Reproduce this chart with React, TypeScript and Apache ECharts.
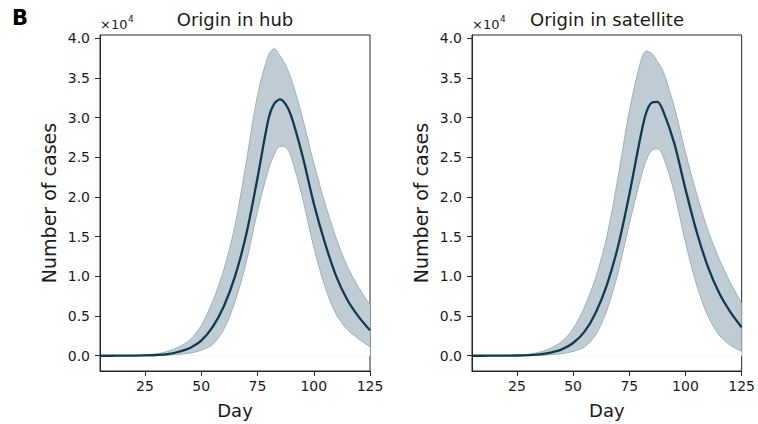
import React, { useEffect, useRef } from "react";
import * as echarts from "echarts";

// Day values (x)
const days = [5, 10, 15, 20, 25, 30, 35, 40, 45, 50, 55, 60, 65, 70, 75, 80, 82.5, 85, 87.5, 90, 95, 100, 105, 110, 115, 120, 125];

// Origin in hub (thousands of cases)
const hubMedian = [0, 0, 0.01, 0.02, 0.04, 0.09, 0.2, 0.5, 0.97, 1.9, 3.6, 6.2, 10.0, 15.3, 22.4, 30.0, 31.8, 32.3, 31.7, 30.2, 25.2, 19.2, 14.2, 10.0, 7.0, 4.9, 3.2];
const hubUpper = [0, 0, 0.02, 0.05, 0.1, 0.2, 0.55, 1.1, 2.0, 3.8, 6.8, 10.8, 16.4, 24.4, 32.8, 38.0, 38.7, 37.8, 36.6, 34.9, 30.0, 24.3, 19.2, 14.8, 11.2, 8.6, 6.4];
const hubLower = [0, 0, 0, 0.01, 0.02, 0.04, 0.08, 0.17, 0.33, 0.7, 1.4, 3.3, 6.8, 11.8, 18.2, 23.6, 25.4, 26.4, 26.3, 25.0, 19.9, 13.7, 8.7, 5.2, 3.3, 2.1, 1.1];

// Origin in satellite (thousands of cases)
const satMedian = [0, 0, 0.01, 0.02, 0.03, 0.07, 0.16, 0.4, 0.8, 1.6, 3.0, 5.4, 8.9, 13.8, 20.3, 27.6, 30.6, 31.9, 32.0, 30.9, 26.8, 21.0, 15.6, 11.2, 7.9, 5.5, 3.6];
const satUpper = [0, 0, 0.02, 0.04, 0.08, 0.17, 0.45, 0.95, 1.8, 3.4, 6.1, 9.8, 15.0, 22.5, 30.8, 37.0, 38.4, 38.1, 37.1, 35.9, 31.4, 25.6, 20.4, 15.8, 12.2, 9.2, 6.6];
const satLower = [0, 0, 0, 0.01, 0.02, 0.03, 0.06, 0.13, 0.26, 0.55, 1.1, 2.6, 5.7, 10.5, 16.6, 22.3, 24.6, 25.9, 26.1, 25.2, 20.6, 14.3, 8.9, 5.0, 2.6, 1.3, 0.55];

// Ticks
const xTicks = [25, 50, 75, 100, 125];
const yTicks = [0, 5000, 10000, 15000, 20000, 25000, 30000, 35000, 40000];

const panelTitles = ["Origin in hub", "Origin in satellite"];

const FONT = "DejaVu Sans";
const AXIS = "#262626";
const TEXT = "#1a1a1a";
const BAND_FILL = "#bfccd3";
const BAND_EDGE = "#9db0ba";
const LINE = "#0f3b4e";
const SMOOTH = 0.3;

function pairs(vals: number[]) {
  return days.map((d, i) => [d, vals[i] * 1000]);
}

function buildOption() {
  const grids = [
    { left: 100, top: 35, width: 270, height: 337 },
    { left: 472, top: 35, width: 270, height: 337 },
  ].map((g) => ({
    ...g,
    show: true,
    borderColor: AXIS,
    borderWidth: 1,
    backgroundColor: "transparent",
    containLabel: false,
  }));

  const xAxes = [0, 1].map((i) => ({
    type: "value",
    gridIndex: i,
    min: 5,
    max: 125,
    name: "Day",
    nameLocation: "middle",
    nameGap: 30,
    nameTextStyle: { fontFamily: FONT, fontSize: 18, color: TEXT },
    axisLine: { show: true, onZero: false, lineStyle: { color: AXIS, width: 1 } },
    axisTick: { show: true, length: 5, customValues: xTicks, lineStyle: { color: AXIS } },
    axisLabel: {
      customValues: xTicks,
      fontFamily: FONT,
      fontSize: 14,
      color: TEXT,
      margin: 8,
      formatter: (v: number) => String(v),
    },
    splitLine: { show: false },
    z: 5,
  }));

  const yAxes = [0, 1].map((i) => ({
    type: "value",
    gridIndex: i,
    min: -1925,
    max: 40425,
    name: "Number of cases",
    nameLocation: "middle",
    nameGap: 42,
    nameTextStyle: { fontFamily: FONT, fontSize: 19, color: TEXT },
    axisLine: { show: true, onZero: false, lineStyle: { color: AXIS, width: 1 } },
    axisTick: { show: true, length: 5, customValues: yTicks, lineStyle: { color: AXIS } },
    axisLabel: {
      customValues: yTicks,
      fontFamily: FONT,
      fontSize: 14,
      color: TEXT,
      margin: 10,
      formatter: (v: number) => (v / 10000).toFixed(1),
    },
    splitLine: { show: false },
    z: 5,
  }));

  const panels = [
    { med: hubMedian, up: hubUpper, lo: hubLower },
    { med: satMedian, up: satUpper, lo: satLower },
  ];

  const series: any[] = [];
  panels.forEach((p, i) => {
    // upper bound: filled down to zero
    series.push({
      type: "line",
      xAxisIndex: i,
      yAxisIndex: i,
      data: pairs(p.up),
      smooth: SMOOTH,
      showSymbol: false,
      symbol: "none",
      lineStyle: { color: BAND_EDGE, width: 1 },
      areaStyle: { color: BAND_FILL, opacity: 1, origin: 0 },
      z: 1,
    });
    // lower bound: white fill below masks the band under it
    series.push({
      type: "line",
      xAxisIndex: i,
      yAxisIndex: i,
      data: pairs(p.lo),
      smooth: SMOOTH,
      showSymbol: false,
      symbol: "none",
      lineStyle: { color: BAND_EDGE, width: 1 },
      areaStyle: { color: "#ffffff", opacity: 1, origin: 0 },
      z: 2,
    });
    series.push({
      type: "line",
      xAxisIndex: i,
      yAxisIndex: i,
      data: pairs(p.med),
      smooth: SMOOTH,
      showSymbol: false,
      symbol: "none",
      lineStyle: { color: LINE, width: 2.3 },
      z: 3,
    });
  });

  const graphic: any[] = [
    {
      type: "text",
      x: 20,
      y: 18,
      style: {
        text: "B",
        fontFamily: FONT,
        fontWeight: "bold",
        fontSize: 21,
        fill: "#000",
        textAlign: "center",
        textVerticalAlign: "middle",
      },
    },
  ];
  [235, 607].forEach((cx, i) => {
    graphic.push({
      type: "text",
      x: cx,
      y: 19,
      style: {
        text: panelTitles[i],
        fontFamily: FONT,
        fontSize: 18,
        fill: TEXT,
        textAlign: "center",
        textVerticalAlign: "middle",
      },
    });
    graphic.push({
      type: "text",
      x: cx - 135,
      y: 24,
      style: {
        text: "×10",
        fontFamily: FONT,
        fontSize: 13,
        fill: TEXT,
        textAlign: "left",
        textVerticalAlign: "middle",
      },
    });
    graphic.push({
      type: "text",
      x: cx - 135 + 28,
      y: 19,
      style: {
        text: "4",
        fontFamily: FONT,
        fontSize: 9,
        fill: TEXT,
        textAlign: "left",
        textVerticalAlign: "middle",
      },
    });
  });

  return {
    animation: false,
    backgroundColor: "#ffffff",
    grid: grids,
    xAxis: xAxes,
    yAxis: yAxes,
    series,
    graphic,
  };
}

export default function App() {
  const ref = useRef<HTMLDivElement>(null);
  useEffect(() => {
    if (!ref.current) return;
    const chart = echarts.init(ref.current, null, { renderer: "svg" });
    chart.setOption(buildOption() as any);
    return () => chart.dispose();
  }, []);
  return (
    <div
      ref={ref}
      style={{ position: "absolute", left: 0, top: 0, width: 758, height: 424 }}
    />
  );
}
